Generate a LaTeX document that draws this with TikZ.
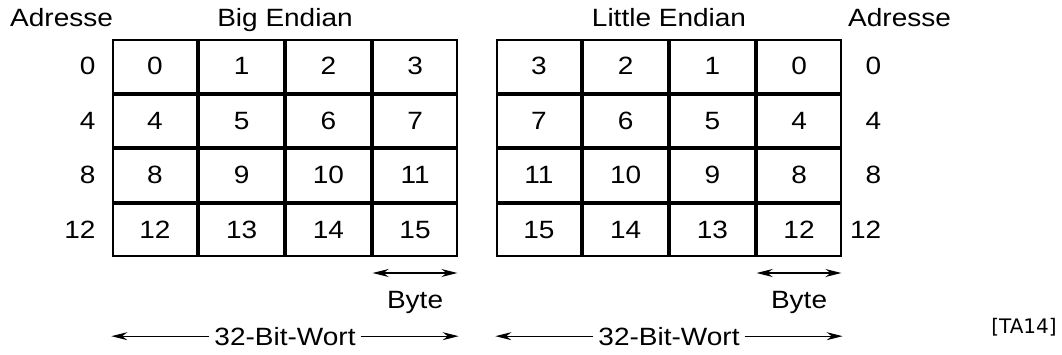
\documentclass[tikz,border=0pt]{standalone}
\usepackage{fontspec}
\setmainfont{Liberation Sans}[FakeStretch=1.12]
\newfontfamily\tafont{DejaVu Sans}
\usetikzlibrary{matrix,arrows.meta}

\begin{document}
\begin{tikzpicture}[x=1pt, y=-1pt, every node/.style={font=\fontsize{25}{30}\selectfont, inner sep=0pt},
	mem/.style={matrix of nodes, nodes={minimum width=84.7pt, minimum height=52.5pt, anchor=center, draw, line width=2pt, outer sep=0pt}, column sep=0pt, row sep=0pt},
	span/.style={line width=1.2pt, {Stealth[length=16pt,width=8pt]}-{Stealth[length=16pt,width=8pt]}},
	half/.style={line width=1.2pt, -{Stealth[length=16pt,width=8pt]}}]
	\useasboundingbox (0,0) rectangle (1062,354);
	\matrix (BE) [mem] at (285,148) {
		0 & 1 & 2 & 3 \\
		4 & 5 & 6 & 7 \\
		8 & 9 & 10 & 11 \\
		12 & 13 & 14 & 15 \\
	};
	\matrix (LE) [mem] at (669,148) {
		3 & 2 & 1 & 0 \\
		7 & 6 & 5 & 4 \\
		11 & 10 & 9 & 8 \\
		15 & 14 & 13 & 12 \\
	};
	% titles
	\node[anchor=base west] (adrl) at (10,26.5) {Adresse};
	\node[anchor=base west] (adrr) at (848,26.5) {Adresse};
	\node[anchor=base] (betitle) at (BE.north |- adrl.base) {Big Endian};
	\node[anchor=base] (letitle) at (LE.north |- adrl.base) {Little Endian};
	% addresses
	\foreach \r/\a in {1/0,2/4,3/8,4/12} {
		\node[anchor=east] (la\r) at ([xshift=-17pt]BE-\r-1.west) {\a};
		\node[anchor=east] (ra\r) at ([xshift=40pt]LE-\r-4.east) {\a};
	}
	% byte
	\draw[span] ([yshift=-17pt]BE-4-4.south west) -- ([yshift=-17pt]BE-4-4.south east);
	\node[anchor=base] (bebyte) at ([yshift=-52pt]BE-4-4.south) {Byte};
	\draw[span] ([yshift=-17pt]LE-4-4.south west) -- ([yshift=-17pt]LE-4-4.south east);
	\node[anchor=base] (lebyte) at ([yshift=-52pt]LE-4-4.south) {Byte};
	% word
	\node[inner xsep=5pt] (bewort) at ([yshift=-79pt]BE.south) {32-Bit-Wort};
	\draw[half] (bewort.west) -- (BE.west |- bewort.west);
	\draw[half] (bewort.east) -- (BE.east |- bewort.east);
	\node[inner xsep=5pt] (lewort) at ([yshift=-79pt]LE.south) {32-Bit-Wort};
	\draw[half] (lewort.west) -- (LE.west |- lewort.west);
	\draw[half] (lewort.east) -- (LE.east |- lewort.east);
	\node[font=\tafont\fontsize{20}{24}\selectfont] (ref) at (1024,327) {[TA14]};
\end{tikzpicture}
\end{document}
